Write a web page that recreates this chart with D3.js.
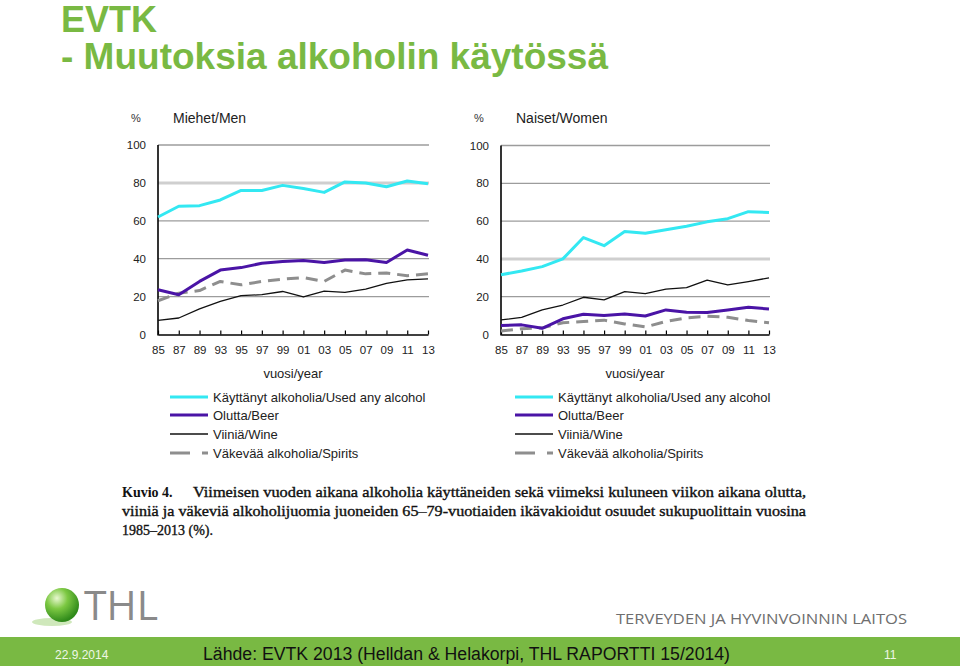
<!DOCTYPE html>
<html><head><meta charset="utf-8">
<script src="https://cdn.jsdelivr.net/npm/d3@7"></script>
<style>
html,body{margin:0;padding:0;background:#fff;}
svg{display:block;font-family:"Liberation Sans",Arial,sans-serif;}
</style></head>
<body>
<svg id="c" width="960" height="666"></svg>
<script>
// ---------- DATA ----------
const years = ["85","87","89","93","95","97","99","01","03","05","07","09","11","13"];
const yTicks = [0,20,40,60,80,100];
const seriesNames = ["Käyttänyt alkoholia/Used any alcohol","Olutta/Beer","Viiniä/Wine","Väkevää alkoholia/Spirits"];

const menAny     = [62,67.7,68,71,76,76,78.7,77,75,80.5,80,78,81,79.5];
const menBeer    = [23.6,21,28,34,35.3,37.6,38.5,39,38,39.3,39.5,38,44.6,41.8];
const menWine    = [7.5,8.7,13.5,17.5,20.5,21,22.7,19.8,22.9,22.2,24,27,28.8,29.4];
const menSpirits = [17.8,21.8,23.2,28,26.2,28,29.2,30,28,34,32,32.5,31,32];

const womenAny     = [31.6,33.6,35.9,40,51.3,47,54.5,53.6,55.4,57.3,59.6,61.3,65,64.5];
const womenBeer    = [4.7,5.1,3.3,8.3,10.7,10,10.9,9.8,13,11.8,11.6,13,14.4,13.5];
const womenWine    = [7.7,9.1,13,15.6,19.7,18.3,22.7,21.6,24,24.8,28.8,26.2,28,30];
const womenSpirits = [1.8,3,3.5,6.2,6.9,7.6,5.6,4,6.9,8.8,9.7,9.1,7.4,6.2];

const panelTitles = ["Miehet/Men","Naiset/Women"];
const unitLabel = "%";
const xAxisLabel = "vuosi/year";

// ---------- STYLE ----------
const lineStyles = [
  {color:"#33e8f2", width:3, dash:null},
  {color:"#4a14a6", width:3, dash:null},
  {color:"#111111", width:1.3, dash:null},
  {color:"#8e8e8e", width:3, dash:"12,7"}
];
const green = "#79b943";

const svg = d3.select("#c");

// Title
svg.append("text").attr("x",61).attr("y",32).attr("fill",green)
  .attr("font-size",36).attr("font-weight","bold").text("EVTK");
svg.append("text").attr("x",61).attr("y",69).attr("fill",green)
  .attr("font-size",37).attr("font-weight","bold")
  .attr("textLength",547).attr("lengthAdjust","spacingAndGlyphs")
  .text("- Muutoksia alkoholin käytössä");

// Panels
const panels = [
  {title:panelTitles[0], data:[menAny,menBeer,menWine,menSpirits], x0:158, x1:428, y0:334.5, y1:145, light:80, legX:170},
  {title:panelTitles[1], data:[womenAny,womenBeer,womenWine,womenSpirits], x0:501, x1:769, y0:334.5, y1:145.5, light:40, legX:515}
];

panels.forEach(p=>{
  const g = svg.append("g");
  const x = d3.scalePoint().domain(years).range([p.x0,p.x1]);
  const y = d3.scaleLinear().domain([0,100]).range([p.y0,p.y1]);

  // gridlines
  g.selectAll("line.grid").data(yTicks.filter(d=>d>0)).join("line")
    .attr("x1",p.x0).attr("x2",p.x1+1).attr("y1",d=>y(d)).attr("y2",d=>y(d))
    .attr("stroke",d=>d===p.light?"#cfcfcf":"#9c9c9c")
    .attr("stroke-width",d=>d===p.light?3:1.3);

  // y axis labels
  const ya = d3.axisLeft(y).tickValues(yTicks).tickSize(0).tickPadding(12);
  const yg = g.append("g").attr("transform",`translate(${p.x0},0)`).call(ya);
  yg.select(".domain").remove();
  yg.selectAll("text").attr("font-size",11.5).attr("fill","#222")
    .attr("font-family","'Liberation Sans',Arial,sans-serif");
  g.append("line").attr("x1",p.x0).attr("x2",p.x0).attr("y1",p.y1).attr("y2",p.y0+1)
    .attr("stroke","#000").attr("stroke-width",1.6);

  // x axis
  const xa = d3.axisBottom(x).tickSizeInner(-4).tickSizeOuter(0).tickPadding(11);
  const xg = g.append("g").attr("transform",`translate(0,${p.y0})`).call(xa);
  xg.select(".domain").attr("stroke","#000").attr("stroke-width",1.6);
  xg.selectAll(".tick line").attr("stroke","#000").attr("stroke-width",1.2);
  xg.selectAll("text").attr("font-size",11.5).attr("fill","#222")
    .attr("font-family","'Liberation Sans',Arial,sans-serif");

  // headers
  g.append("text").attr("x",p.x0-27).attr("y",122).attr("font-size",11).attr("fill","#333").text(unitLabel);
  g.append("text").attr("x",p.x0+15).attr("y",123).attr("font-size",14).attr("fill","#222").text(p.title);
  g.append("text").attr("x",(p.x0+p.x1)/2).attr("y",378).attr("text-anchor","middle")
    .attr("font-size",13).attr("fill","#222").text(xAxisLabel);

  // lines
  const line = d3.line().x((d,i)=>x(years[i])).y(d=>y(d));
  [3,2,1,0].forEach(si=>{
    const st = lineStyles[si];
    g.append("path").datum(p.data[si]).attr("d",line).attr("fill","none")
      .attr("stroke",st.color).attr("stroke-width",st.width)
      .attr("stroke-dasharray",st.dash).attr("stroke-linejoin","round");
  });

  // legend
  const legY = [397,415,434,453];
  seriesNames.forEach((n,i)=>{
    const st = lineStyles[i];
    g.append("line").attr("x1",p.legX).attr("x2",p.legX+38).attr("y1",legY[i]).attr("y2",legY[i])
      .attr("stroke",st.color).attr("stroke-width",st.width)
      .attr("stroke-dasharray",i===3?"20,12,6,0":null);
    g.append("text").attr("x",p.legX+43).attr("y",legY[i]+4.5).attr("font-size",13)
      .attr("fill","#222").text(n);
  });
});

// Caption
const capFont = "'Liberation Serif','Times New Roman',serif";
svg.append("text").attr("x",122).attr("y",497).attr("font-family",capFont).attr("font-size",14)
  .attr("font-weight","bold").attr("fill","#111").text("Kuvio 4.");
const capBody = [
  {x:193, y:497, w:613, t:"Viimeisen vuoden aikana alkoholia käyttäneiden sekä viimeksi kuluneen viikon aikana olutta,"},
  {x:122, y:516, w:684, t:"viiniä ja väkeviä alkoholijuomia juoneiden 65–79-vuotiaiden ikävakioidut osuudet sukupuolittain vuosina"},
  {x:122, y:535, w:null, t:"1985–2013 (%)."}
];
capBody.forEach(c=>{
  const t = svg.append("text").attr("x",c.x).attr("y",c.y).attr("font-family",capFont).attr("font-size",14)
    .attr("fill","#111").attr("stroke","#111").attr("stroke-width",0.35).text(c.t);
  if(c.w) t.attr("textLength",c.w).attr("lengthAdjust","spacingAndGlyphs");
});

// Logo
const defs = svg.append("defs");
const rg = defs.append("radialGradient").attr("id","ball").attr("cx","35%").attr("cy","30%").attr("r","70%");
rg.append("stop").attr("offset","0%").attr("stop-color","#e8f8d0");
rg.append("stop").attr("offset","45%").attr("stop-color","#7cc842");
rg.append("stop").attr("offset","100%").attr("stop-color","#2f8a1a");
svg.append("ellipse").attr("cx",52).attr("cy",622).attr("rx",20).attr("ry",4).attr("fill","#cfe8bb");
svg.append("circle").attr("cx",62).attr("cy",605).attr("r",17).attr("fill","url(#ball)");
svg.append("text").attr("x",84).attr("y",620).attr("font-size",40).attr("fill","#8a8a8a")
  .attr("font-family","'Open Sans','Liberation Sans',sans-serif")
  .attr("textLength",74).attr("lengthAdjust","spacingAndGlyphs").text("THL");
svg.append("text").attr("x",616).attr("y",624).attr("font-size",14.5).attr("fill","#6e6e6e")
  .attr("font-family","'Open Sans','Liberation Sans',sans-serif")
  .attr("textLength",291).attr("lengthAdjust","spacingAndGlyphs").text("TERVEYDEN JA HYVINVOINNIN LAITOS");

// Footer bar
svg.append("rect").attr("x",0).attr("y",637).attr("width",960).attr("height",29).attr("fill",green);
svg.append("text").attr("x",55).attr("y",659).attr("font-size",12).attr("fill","#eef7e6").text("22.9.2014");
svg.append("text").attr("x",203).attr("y",660).attr("font-size",18).attr("fill","#111")
  .attr("textLength",527).attr("lengthAdjust","spacingAndGlyphs")
  .text("Lähde: EVTK 2013 (Helldan & Helakorpi, THL RAPORTTI 15/2014)");
svg.append("text").attr("x",884).attr("y",659).attr("font-size",12).attr("fill","#eef7e6").text("11");
</script>
</body></html>
